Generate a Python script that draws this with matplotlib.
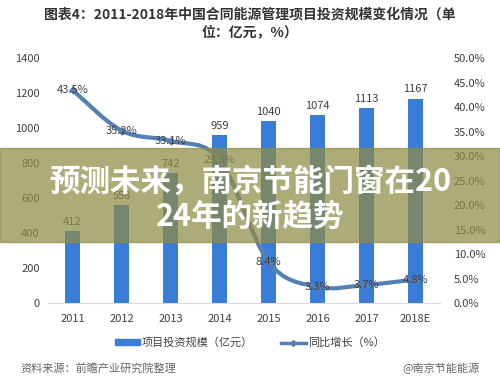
import numpy as np
import matplotlib.pyplot as plt
from matplotlib.path import Path
from matplotlib.patches import PathPatch, Rectangle
from matplotlib.lines import Line2D

plt.rcParams['font.family'] = ['Noto Sans CJK SC', 'DejaVu Sans']

# data
years = ['2011', '2012', '2013', '2014', '2015', '2016', '2017', '2018E']
invest = [412, 558, 742, 959, 1040, 1074, 1113, 1167]
growth = [43.5, 35.2, 33.1, 29.3, 8.4, 3.3, 3.7, 4.8]

bar_color = '#3a7dd6'
line_color = '#5580b4'
txt = '#404040'

fig = plt.figure(figsize=(5, 3.9), dpi=100)
ax = fig.add_axes([0.096, 0.223, 0.784, 0.628])
ax2 = ax.twinx()

x = np.arange(len(years))
ax.bar(x, invest, width=0.31, color=bar_color, zorder=2)
for xi, v in zip(x, invest):
    ax.text(xi, v + 25, str(v), ha='center', va='bottom', fontsize=8, color=txt)

ax.set_xlim(-0.5, len(years) - 0.5)
ax.set_ylim(0, 1400)
ax.set_yticks(range(0, 1401, 200))
ax.set_xticks(x)
ax.set_xticklabels(years)
ax2.set_ylim(0, 50)
ax2.set_yticks(range(0, 51, 5))
ax2.set_yticklabels([f'{v:.1f}%' for v in range(0, 51, 5)])

for a in (ax, ax2):
    for s in a.spines.values():
        s.set_visible(False)
    a.tick_params(length=0, labelsize=8, labelcolor=txt, pad=6)
ax.spines['bottom'].set_visible(True)
ax.spines['bottom'].set_color('#d9d9d9')
ax.tick_params(axis='x', pad=8)
ax2.tick_params(axis='y', pad=10)

# smooth line through growth values (catmull-rom as bezier)
pts = np.column_stack([x, growth]).astype(float)
verts = [tuple(pts[0])]
codes = [Path.MOVETO]
n = len(pts)
for i in range(n - 1):
    p0 = pts[max(i - 1, 0)]
    p1 = pts[i]
    p2 = pts[i + 1]
    p3 = pts[min(i + 2, n - 1)]
    c1 = p1 + (p2 - p0) / 6
    c2 = p2 - (p3 - p1) / 6
    verts += [tuple(c1), tuple(c2), tuple(p2)]
    codes += [Path.CURVE4] * 3
ax2.add_patch(PathPatch(Path(verts, codes), fill=False, lw=3, ec=line_color,
                        zorder=3, capstyle='round'))
ax2.plot(x, growth, ls='none', marker='D', ms=3.5, color=line_color, zorder=4)
for xi, v in zip(x, growth):
    ax2.text(xi, v, f'{v}%', ha='center', va='center', fontsize=8, color=txt, zorder=5)

# title
fig.text(0.5, 0.962, '图表4：2011-2018年中国合同能源管理项目投资规模变化情况（单',
         ha='center', va='center', fontsize=10, fontweight='bold', color='#333333')
fig.text(0.5, 0.918, '位：亿元，%）', ha='center', va='center', fontsize=10,
         fontweight='bold', color='#333333')

# legend
h1 = Rectangle((0, 0), 1, 1, color=bar_color)
h2 = Line2D([], [], color=line_color, lw=2.5, marker='D', ms=3)
fig.legend([h1, h2], ['项目投资规模（亿元）', '同比增长（%）'], loc='center',
           bbox_to_anchor=(0.5, 0.121), ncol=2, frameon=False, fontsize=8,
           handlelength=2.2, handleheight=0.4, columnspacing=2.5, handletextpad=0.2,
           labelcolor=txt)

fig.text(0.04, 0.056, '资料来源：前瞻产业研究院整理', fontsize=8, color='#666666',
         style='italic', va='center')
fig.text(0.96, 0.056, '@南京节能能源', fontsize=8, color='#666666', ha='right',
         va='center')

# banner overlay
fig.patches.append(Rectangle((0, 1 - 242 / 390), 1, 94 / 390, transform=fig.transFigure,
                             color='#8e8c45', alpha=0.72, zorder=10))
fig.text(0.5, 1 - 182 / 390, '预测未来，南京节能门窗在20', ha='center', va='center',
         fontsize=22, fontweight='bold', color='white', zorder=11)
fig.text(0.5, 1 - 217 / 390, '24年的新趋势', ha='center', va='center',
         fontsize=22, fontweight='bold', color='white', zorder=11)

fig.savefig('out.png', dpi=100)
